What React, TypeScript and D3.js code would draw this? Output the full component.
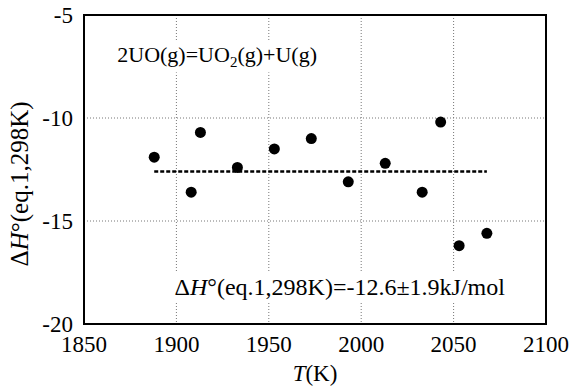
import { useEffect, useRef } from "react";
import * as d3 from "d3";

// temperatures (K) and enthalpies (kJ/mol)
const temps = [1888, 1908, 1913, 1933, 1953, 1973, 1993, 2013, 2033, 2043, 2053, 2068];
const dH = [-11.9, -13.6, -10.7, -12.4, -11.5, -11.0, -13.1, -12.2, -13.6, -10.2, -16.2, -15.6];
const meanDH = -12.6;
const xTicks = [1850, 1900, 1950, 2000, 2050, 2100];
const yTicks = [-5, -10, -15, -20];

const FONT = "'Liberation Serif', 'Times New Roman', Times, serif";

export default function App() {
  const svgRef = useRef<SVGSVGElement>(null);

  useEffect(() => {
    const svg = d3.select(svgRef.current);
    svg.selectAll("*").remove();

    const margin = { top: 15, right: 27, bottom: 68, left: 84 };
    const width = 573, height = 392;
    const W = width - margin.left - margin.right;
    const H = height - margin.top - margin.bottom;

    const x = d3.scaleLinear().domain([1850, 2100]).range([0, W]);
    const y = d3.scaleLinear().domain([-20, -5]).range([H, 0]);

    const g = svg.append("g").attr("transform", `translate(${margin.left},${margin.top})`)
      .style("font-family", FONT);

    // grid
    g.selectAll(".vg").data(xTicks.slice(1, -1)).enter().append("line")
      .attr("x1", d => x(d)).attr("x2", d => x(d)).attr("y1", 0).attr("y2", H)
      .attr("stroke", "#777").attr("stroke-width", 1).attr("stroke-dasharray", "1,2");
    g.selectAll(".hg").data(yTicks.slice(1, -1)).enter().append("line")
      .attr("x1", 0).attr("x2", W).attr("y1", d => y(d)).attr("y2", d => y(d))
      .attr("stroke", "#777").attr("stroke-width", 1).attr("stroke-dasharray", "1,2");

    // text boxes (white background hides grid)
    const label = (tx: number, ty: number, fs: number) =>
      g.append("text").attr("x", tx).attr("y", ty).attr("font-size", fs).attr("fill", "#000");

    const top = label(x(1868), y(-7.3), 22);
    top.append("tspan").text("2UO(g)=UO");
    top.append("tspan").attr("font-size", 15).attr("dy", 5).text("2");
    top.append("tspan").attr("dy", -5).text("(g)+U(g)");

    const bot = label(x(1899), y(-18.6), 24);
    bot.append("tspan").text("Δ");
    bot.append("tspan").attr("font-style", "italic").text("H");
    bot.append("tspan").text("°(eq.1,298K)=-12.6±1.9kJ/mol");

    [top, bot].forEach(t => {
      const b = (t.node() as SVGTextElement).getBBox();
      g.insert("rect", "text")
        .attr("x", b.x - 4).attr("y", b.y - 2).attr("width", b.width + 8).attr("height", b.height + 4)
        .attr("fill", "#fff");
    });

    // mean line
    g.append("line")
      .attr("x1", x(d3.min(temps)!)).attr("x2", x(d3.max(temps)!))
      .attr("y1", y(meanDH)).attr("y2", y(meanDH))
      .attr("stroke", "#000").attr("stroke-width", 2.5).attr("stroke-dasharray", "4,2");

    // points
    g.selectAll(".pt").data(temps).enter().append("circle")
      .attr("cx", d => x(d)).attr("cy", (_, i) => y(dH[i])).attr("r", 5.5).attr("fill", "#000");

    // frame
    g.append("rect").attr("x", 0).attr("y", 0).attr("width", W).attr("height", H)
      .attr("fill", "none").attr("stroke", "#000").attr("stroke-width", 2);

    // tick labels
    g.selectAll(".xt").data(xTicks).enter().append("text")
      .attr("x", d => x(d)).attr("y", H + 28).attr("text-anchor", "middle")
      .attr("font-size", 23).text(d => d);
    g.selectAll(".yt").data(yTicks).enter().append("text")
      .attr("x", -11).attr("y", d => y(d) + 8).attr("text-anchor", "end")
      .attr("font-size", 23).text(d => d);

    // axis titles
    const xt = g.append("text").attr("x", W / 2).attr("y", H + 57).attr("text-anchor", "middle")
      .attr("font-size", 23);
    xt.append("tspan").attr("font-style", "italic").text("T");
    xt.append("tspan").text("(K)");

    const yt = svg.append("text")
      .attr("transform", `translate(28,${margin.top + y(-13.2)}) rotate(-90)`)
      .attr("text-anchor", "middle").style("font-family", FONT).attr("font-size", 25);
    yt.append("tspan").text("Δ");
    yt.append("tspan").attr("font-style", "italic").text("H");
    yt.append("tspan").text("°(eq.1,298K)");
  }, []);

  return <svg ref={svgRef} width={573} height={392} style={{ position: "absolute", left: 0, top: 0 }} />;
}
